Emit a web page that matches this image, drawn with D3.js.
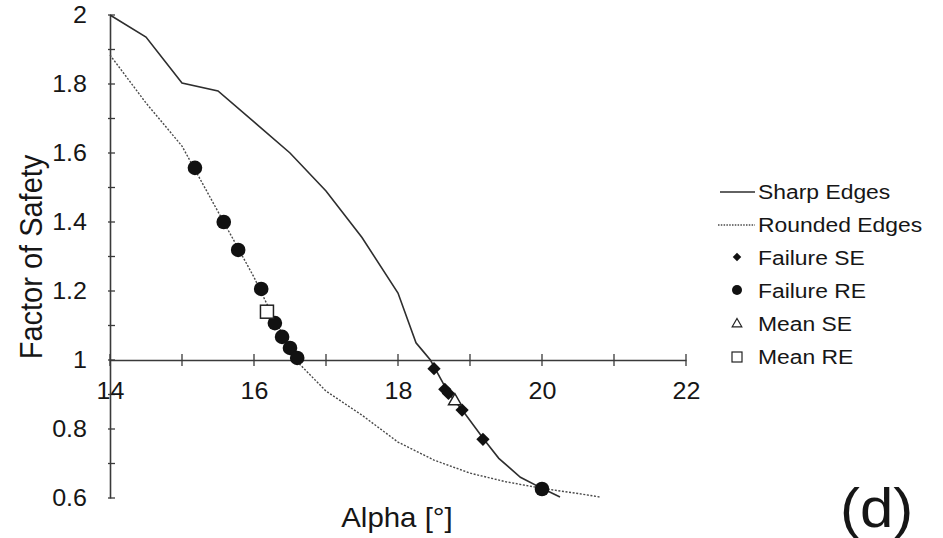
<!DOCTYPE html>
<html><head><meta charset="utf-8">
<script src="https://cdn.jsdelivr.net/npm/d3@7"></script>
<style>
body{margin:0;background:#fff}
svg{display:block}
text{font-family:"Liberation Sans",Arial,Helvetica,sans-serif;fill:#161616}
</style>
</head><body>
<svg id="c" width="943" height="538"></svg>
<script>
// ---- data ----
const sharpAlpha = [14.0,14.5,15.0,15.5,16.0,16.5,17.0,17.5,18.0,18.25,18.35,18.45,18.7,18.9,19.2,19.4,19.7,20.0,20.25];
const sharpFoS   = [2.0,1.936,1.803,1.78,1.69,1.60,1.49,1.355,1.194,1.05,1.025,1.0,0.905,0.853,0.768,0.715,0.66,0.628,0.603];
const roundAlpha = [14.0,14.5,15.0,15.5,16.0,16.3,16.5,16.6,17.0,17.5,18.0,18.5,19.0,19.5,20.0,20.5,20.8];
const roundFoS   = [1.884,1.745,1.62,1.43,1.24,1.11,1.04,0.995,0.91,0.84,0.762,0.71,0.672,0.647,0.628,0.613,0.603];
const failSEAlpha = [18.5,18.65,18.7,18.89,19.18];
const failSEFoS   = [0.975,0.915,0.903,0.855,0.77];
const failREAlpha = [15.18,15.58,15.78,16.1,16.29,16.39,16.5,16.6,20.0];
const failREFoS   = [1.557,1.40,1.319,1.206,1.107,1.067,1.035,1.006,0.626];
const meanSEAlpha = [18.79];
const meanSEFoS   = [0.881];
const meanREAlpha = [16.18];
const meanREFoS   = [1.14];
const xTicks = [14,16,18,20,22];
const xMinor = [15,17,19,21];
const yTicks = [0.6,0.8,1,1.2,1.4,1.6,1.8,2];
const yMinor = [0.7,0.9,1.1,1.3,1.5,1.7,1.9];
const legendLabels = ["Sharp Edges","Rounded Edges","Failure SE","Failure RE","Mean SE","Mean RE"];
const xTitle = "Alpha [°]";
const yTitle = "Factor of Safety";
const panelLabel = "(d)";

// ---- layout ----
const SX = 1.09; // horizontal text stretch seen in the reference
const svg = d3.select("#c");
const x = d3.scaleLinear().domain([14,22]).range([110,686]);
const y = d3.scaleLinear().domain([0.6,2.0]).range([498,15]);
const axisCol = "#3a3a3a";
const fmt = d => (Math.round(d*10)/10).toString();

// y axis
const gy = svg.append("g").attr("transform",`translate(${x(14)},0)`)
  .call(d3.axisLeft(y).tickValues(yTicks).tickFormat(fmt).tickSizeOuter(0).tickSizeInner(0));
gy.select(".domain").attr("stroke",axisCol).attr("stroke-width",1.6);
gy.selectAll(".tick line").remove();
gy.selectAll(".tick text")
  .attr("x",null).attr("fill","#161616")
  .attr("transform",`translate(-23,0) scale(${SX},1)`)
  .style("font-size","23px");
// y tick marks (major+minor)
const gyT = svg.append("g");
gyT.selectAll("line").data(yTicks.concat(yMinor)).join("line")
  .attr("x1",x(14)-2).attr("x2",x(14)+5)
  .attr("y1",d=>y(d)).attr("y2",d=>y(d))
  .attr("stroke",axisCol).attr("stroke-width",1.3);

// x axis at FoS = 1
const gx = svg.append("g").attr("transform",`translate(0,${y(1)})`)
  .call(d3.axisBottom(x).tickValues(xTicks).tickFormat(d=>d).tickSizeOuter(0).tickSizeInner(0));
gx.select(".domain").attr("stroke",axisCol).attr("stroke-width",1.6);
gx.selectAll(".tick line").remove();
gx.selectAll(".tick text")
  .attr("y",null).attr("dy",null).attr("fill","#161616")
  .attr("transform",`translate(0,39) scale(${SX},1)`)
  .style("font-size","23px");
const gxT = svg.append("g");
gxT.selectAll("line").data(xTicks.concat(xMinor)).join("line")
  .attr("x1",d=>x(d)).attr("x2",d=>x(d))
  .attr("y1",y(1)-6).attr("y2",y(1)+6)
  .attr("stroke",axisCol).attr("stroke-width",1.3);

// lines
const line = d3.line().x(d=>x(d[0])).y(d=>y(d[1]));
const sharp = sharpAlpha.map((a,i)=>[a,sharpFoS[i]]);
const round = roundAlpha.map((a,i)=>[a,roundFoS[i]]);
svg.append("path").attr("d",line(round)).attr("fill","none")
  .attr("stroke","#4a4a4a").attr("stroke-width",1.4).attr("stroke-dasharray","2,1.6");
svg.append("path").attr("d",line(sharp)).attr("fill","none")
  .attr("stroke","#2e2e2e").attr("stroke-width",1.6);

// markers
const sym = (type,size) => d3.symbol().type(type).size(size);
svg.append("g").selectAll("circle").data(failREAlpha.map((a,i)=>[a,failREFoS[i]])).join("circle")
  .attr("cx",d=>x(d[0])).attr("cy",d=>y(d[1])).attr("r",7.3).attr("fill","#111");
svg.append("g").selectAll("path").data(failSEAlpha.map((a,i)=>[a,failSEFoS[i]])).join("path")
  .attr("d",sym(d3.symbolSquare,88)())
  .attr("transform",d=>`translate(${x(d[0])},${y(d[1])}) rotate(45)`).attr("fill","#111");
svg.append("g").selectAll("path").data(meanSEAlpha.map((a,i)=>[a,meanSEFoS[i]])).join("path")
  .attr("d",sym(d3.symbolTriangle,70)())
  .attr("transform",d=>`translate(${x(d[0])},${y(d[1])})`)
  .attr("fill","#fff").attr("stroke","#222").attr("stroke-width",1.5);
svg.append("g").selectAll("rect").data(meanREAlpha.map((a,i)=>[a,meanREFoS[i]])).join("rect")
  .attr("x",d=>x(d[0])-6.5).attr("y",d=>y(d[1])-6.5).attr("width",13).attr("height",13)
  .attr("fill","#fff").attr("stroke","#222").attr("stroke-width",1.5);

// legend
const lg = svg.append("g");
const rowY = i => 191 + i*33;
const lx = 737;
legendLabels.forEach((lab,i)=>{
  const yy = rowY(i);
  if(i===0) lg.append("line").attr("x1",720).attr("x2",755).attr("y1",yy+1).attr("y2",yy+1)
      .attr("stroke","#2e2e2e").attr("stroke-width",1.5);
  if(i===1) lg.append("line").attr("x1",718).attr("x2",755).attr("y1",yy+1).attr("y2",yy+1)
      .attr("stroke","#4a4a4a").attr("stroke-width",1.3).attr("stroke-dasharray","1.5,1.3");
  if(i===2) lg.append("path").attr("d",sym(d3.symbolSquare,36)())
      .attr("transform",`translate(${lx},${yy}) rotate(45)`).attr("fill","#111");
  if(i===3) lg.append("circle").attr("cx",lx).attr("cy",yy).attr("r",5).attr("fill","#111");
  if(i===4) lg.append("path").attr("d",sym(d3.symbolTriangle,40)())
      .attr("transform",`translate(${lx},${yy+1})`).attr("fill","#fff").attr("stroke","#222").attr("stroke-width",1.2);
  if(i===5) lg.append("rect").attr("x",lx-5).attr("y",yy-4).attr("width",10).attr("height",10)
      .attr("fill","#fff").attr("stroke","#222").attr("stroke-width",1.2);
  lg.append("text").attr("transform",`translate(758,${yy+7.5}) scale(${SX},1)`)
    .style("font-size","21px").text(lab);
});

// titles
svg.append("text").attr("transform",`translate(397,527) scale(${SX},1)`)
  .attr("text-anchor","middle").style("font-size","27px").text(xTitle);
svg.append("text").attr("transform",`translate(42,257) scale(${SX},1) rotate(-90)`)
  .attr("text-anchor","middle").style("font-size","29px").text(yTitle);
svg.append("text").attr("transform",`translate(840,527) scale(${SX},1)`)
  .style("font-size","55px").text(panelLabel);
</script>
</body></html>
